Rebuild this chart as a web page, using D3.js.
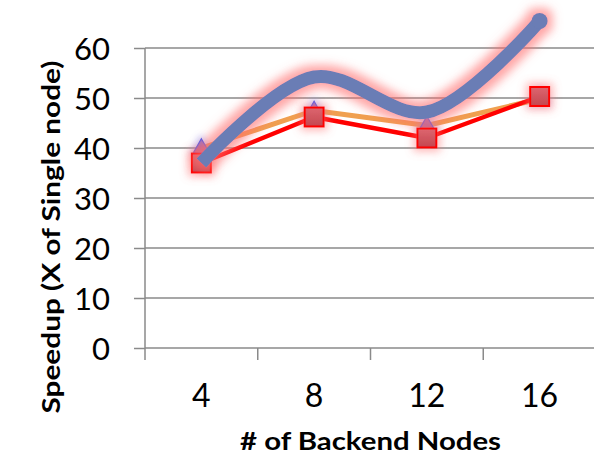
<!DOCTYPE html>
<html>
<head>
<meta charset="utf-8">
<script src="https://cdn.jsdelivr.net/npm/d3@7"></script>
<style>
  html, body { margin: 0; padding: 0; background: #fff; }
  svg { display: block; }
  text { font-family: Lato, "Open Sans", sans-serif; fill: #000; }
</style>
</head>
<body>
<svg id="chart" width="594" height="454"></svg>
<script>
// Speedup relative to a single node, per number of backend nodes
const categories = ["4", "8", "12", "16"];
const triangleSeries = [40, 47.5, 44.5, 49.8];   // orange line, triangle markers
const squareSeries = [37, 46.2, 42, 50.3];       // red line, square markers
const smoothSeries = [37, 54.2, 47.2, 65.4];     // thick smoothed blue line
const yTicks = [0, 10, 20, 30, 40, 50, 60];

const svg = d3.select("#chart");
const W = 594, H = 454;
const plot = { left: 145, right: 596, top: 48, bottom: 348 };

const x = d3.scaleBand().domain(categories).range([plot.left, plot.right]);
const y = d3.scaleLinear().domain([0, 60]).range([plot.bottom, plot.top]);
const cx = c => x(c) + x.bandwidth() / 2;

// Filters: pink glow around marks, faint blue glow for triangles
const defs = svg.append("defs");
function glow(id, color, dilate, blur, opacity) {
  const f = defs.append("filter").attr("id", id)
    .attr("x", "-50%").attr("y", "-50%").attr("width", "200%").attr("height", "200%");
  f.append("feMorphology").attr("in", "SourceAlpha").attr("operator", "dilate")
    .attr("radius", dilate).attr("result", "d");
  f.append("feGaussianBlur").attr("in", "d").attr("stdDeviation", blur).attr("result", "b");
  f.append("feFlood").attr("flood-color", color).attr("flood-opacity", opacity);
  f.append("feComposite").attr("in2", "b").attr("operator", "in").attr("result", "g");
  const m = f.append("feMerge");
  m.append("feMergeNode").attr("in", "g");
  m.append("feMergeNode").attr("in", "SourceGraphic");
}
glow("glowPink", "#ff6b6b", 5, 5, 0.6);
glow("glowSquare", "#ff7070", 3, 4, 0.5);
glow("glowBlue", "#8090ff", 2, 3, 0.4);

const sqGrad = defs.append("linearGradient").attr("id", "sqGrad")
  .attr("x1", 0).attr("y1", 0).attr("x2", 0).attr("y2", 1);
sqGrad.append("stop").attr("offset", "0%").attr("stop-color", "#dd6670");
sqGrad.append("stop").attr("offset", "100%").attr("stop-color", "#c4474f");
const triGrad = defs.append("linearGradient").attr("id", "triGrad")
  .attr("x1", 0).attr("y1", 0).attr("x2", 0).attr("y2", 1);
triGrad.append("stop").attr("offset", "0%").attr("stop-color", "#8a7ad8");
triGrad.append("stop").attr("offset", "100%").attr("stop-color", "#b06090");

// Gridlines
svg.append("g").selectAll("line").data(yTicks.filter(d => d > 0)).join("line")
  .attr("x1", plot.left).attr("x2", W)
  .attr("y1", d => y(d)).attr("y2", d => y(d))
  .attr("stroke", "#8a8a8a").attr("stroke-width", 1.5);

// Y axis
const yAxis = svg.append("g").attr("transform", `translate(${plot.left},0)`)
  .call(d3.axisLeft(y).tickValues(yTicks).tickSize(11).tickPadding(24));
yAxis.select(".domain").remove();
yAxis.selectAll(".tick line").attr("stroke", "#8a8a8a").attr("stroke-width", 1.5);
yAxis.selectAll(".tick text").attr("font-size", 31).attr("font-family", "Lato, sans-serif")
  .attr("fill", "#000").attr("dy", "0.36em");
svg.append("line").attr("x1", plot.left).attr("x2", plot.left)
  .attr("y1", plot.top).attr("y2", plot.bottom + 12)
  .attr("stroke", "#8a8a8a").attr("stroke-width", 1.5);

// X axis: ticks sit on the band boundaries
svg.append("line").attr("x1", plot.left).attr("x2", W)
  .attr("y1", plot.bottom).attr("y2", plot.bottom)
  .attr("stroke", "#8a8a8a").attr("stroke-width", 1.5);
svg.append("g").selectAll("line").data(categories.slice(1)).join("line")
  .attr("x1", d => x(d)).attr("x2", d => x(d))
  .attr("y1", plot.bottom).attr("y2", plot.bottom + 12)
  .attr("stroke", "#8a8a8a").attr("stroke-width", 1.5);
svg.append("g").selectAll("text").data(categories).join("text")
  .attr("x", d => cx(d)).attr("y", 407)
  .attr("text-anchor", "middle").attr("font-size", 32)
  .text(d => d);

// Axis titles
svg.append("text").attr("x", (plot.left + plot.right) / 2).attr("y", 450)
  .attr("text-anchor", "middle").attr("font-size", 25).attr("font-weight", "bold")
  .attr("textLength", 261).attr("lengthAdjust", "spacingAndGlyphs")
  .text("# of Backend Nodes");
svg.append("text").attr("transform", "translate(60,237) rotate(-90)")
  .attr("text-anchor", "middle").attr("font-size", 25).attr("font-weight", "bold")
  .attr("textLength", 353).attr("lengthAdjust", "spacingAndGlyphs")
  .text("Speedup (X of Single node)");

// Triangle series
const line = d3.line().x((d, i) => cx(categories[i])).y(d => y(d));
svg.append("path").datum(triangleSeries).attr("d", line)
  .attr("fill", "none").attr("stroke", "#f0a050").attr("stroke-width", 5)
  .attr("stroke-linejoin", "round");
const tri = d3.symbol().type(d3.symbolTriangle).size(110);
svg.append("g").attr("filter", "url(#glowBlue)")
  .selectAll("path").data(triangleSeries).join("path")
  .attr("d", tri)
  .attr("transform", (d, i) => `translate(${cx(categories[i])},${y(d)})`)
  .attr("fill", "url(#triGrad)").attr("stroke", "#4a5cf0").attr("stroke-width", 1.2);

// Square series
svg.append("path").datum(squareSeries).attr("d", line)
  .attr("fill", "none").attr("stroke", "#ff0000").attr("stroke-width", 4.5)
  .attr("stroke-linejoin", "round");
const sq = 19;
svg.append("g").attr("filter", "url(#glowSquare)")
  .selectAll("rect").data(squareSeries).join("rect")
  .attr("x", (d, i) => cx(categories[i]) - sq / 2)
  .attr("y", d => y(d) - sq / 2)
  .attr("width", sq).attr("height", sq)
  .attr("fill", "url(#sqGrad)").attr("stroke", "#ff0000").attr("stroke-width", 2);

// Smoothed series
const smooth = d3.line().x((d, i) => cx(categories[i])).y(d => y(d))
  .curve(d3.curveCatmullRom.alpha(0.5));
const sg = svg.append("g").attr("filter", "url(#glowPink)");
sg.append("path").datum(smoothSeries).attr("d", smooth)
  .attr("fill", "none").attr("stroke", "#6a7db5").attr("stroke-width", 13)
  .attr("stroke-linecap", "butt");
sg.append("circle")
  .attr("cx", cx(categories[3])).attr("cy", y(smoothSeries[3]))
  .attr("r", 8).attr("fill", "#6a7db5");
</script>
</body>
</html>
